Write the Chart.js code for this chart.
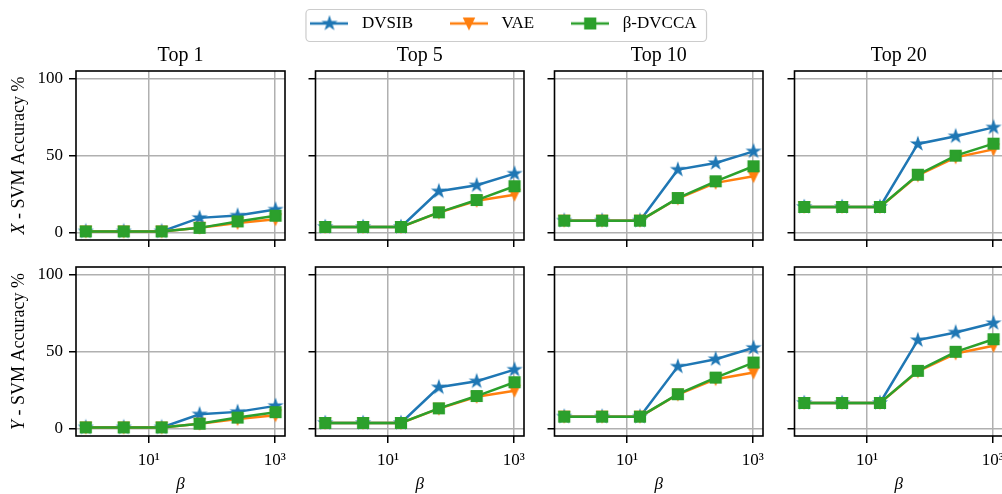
<!DOCTYPE html>
<html>
<head>
<meta charset="utf-8">
<script src="https://cdn.jsdelivr.net/npm/chart.js@4.4.1/dist/chart.umd.min.js"></script>
<style>
  html, body { margin: 0; padding: 0; background: #fff; overflow: hidden; width: 1002px; height: 494px; position: relative; }
  canvas { position: absolute; }
</style>
</head>
<body>
<script>
// ---- data ----
const betaValues = [1, 4, 16, 64, 256, 1024];
const panelTitles = ['Top 1', 'Top 5', 'Top 10', 'Top 20'];
const seriesNames = ['DVSIB', 'VAE', 'β-DVCCA'];
const rowLetters = ['X', 'Y'];
const yTickValues = [0, 50, 100];
const xTickValues = [10, 1000];
const xTickLabels = ['10¹', '10³'];

// X row (one list per panel: Top 1, Top 5, Top 10, Top 20)
const dvsibX = [
  [0.6, 0.6, 0.6, 9.4, 10.9, 14.8],
  [3.5, 3.5, 3.5, 26.7, 30.6, 38.2],
  [7.6, 7.6, 7.6, 40.8, 45.1, 52.7],
  [16.5, 16.5, 16.5, 57.5, 62.5, 68.3]
];
const vaeX = [
  [0.5, 0.5, 0.5, 3.0, 6.0, 8.5],
  [3.5, 3.5, 3.5, 12.8, 20.5, 24.5],
  [7.6, 7.6, 7.6, 22.0, 32.2, 36.5],
  [16.5, 16.5, 16.5, 37.0, 48.8, 54.0]
];
const dvccaX = [
  [0.6, 0.6, 0.6, 2.9, 7.1, 10.8],
  [3.5, 3.5, 3.5, 13.0, 21.0, 30.0],
  [7.6, 7.6, 7.6, 22.3, 33.2, 43.0],
  [16.5, 16.5, 16.5, 37.5, 49.9, 57.7]
];
// Y row
const dvsibY = [
  [0.6, 0.6, 0.6, 9.1, 10.7, 14.6],
  [3.5, 3.5, 3.5, 26.7, 30.6, 38.2],
  [7.6, 7.6, 7.6, 40.2, 45.0, 52.4],
  [16.5, 16.5, 16.5, 57.4, 62.4, 68.5]
];
const vaeY = [
  [0.5, 0.5, 0.5, 3.0, 6.0, 8.5],
  [3.5, 3.5, 3.5, 12.8, 20.5, 24.5],
  [7.6, 7.6, 7.6, 22.0, 32.0, 36.3],
  [16.5, 16.5, 16.5, 37.0, 48.7, 53.7]
];
const dvccaY = [
  [0.6, 0.6, 0.6, 3.0, 7.0, 10.5],
  [3.5, 3.5, 3.5, 13.0, 21.0, 30.0],
  [7.6, 7.6, 7.6, 22.2, 33.0, 42.8],
  [16.5, 16.5, 16.5, 37.4, 49.8, 58.0]
];

const rowData = [[dvsibX, vaeX, dvccaX], [dvsibY, vaeY, dvccaY]];

// ---- styling ----
const FONT = '"Liberation Serif", "Times New Roman", serif';
Chart.defaults.font.family = FONT;
Chart.defaults.color = '#000';

const colors = ['#1f77b4', '#ff7f0e', '#2ca02c'];
const markerKinds = ['star', 'triDown', 'square'];

function drawMarker(ctx, kind, cx, cy, color) {
  ctx.fillStyle = color;
  ctx.strokeStyle = color;
  ctx.lineWidth = 1.2;
  ctx.lineJoin = 'miter';
  ctx.beginPath();
  if (kind === 'star') {
    for (let k = 0; k < 10; k++) {
      const r = k % 2 ? 2.5 : 6.5;
      const a = -Math.PI / 2 + k * Math.PI / 5;
      ctx.lineTo(cx + r * Math.cos(a), cy + r * Math.sin(a));
    }
  } else if (kind === 'triDown') {
    ctx.moveTo(cx - 5.3, cy - 5.3);
    ctx.lineTo(cx + 5.3, cy - 5.3);
    ctx.lineTo(cx, cy + 5.6);
  } else {
    ctx.rect(cx - 5.5, cy - 5.5, 11, 11);
  }
  ctx.closePath();
  ctx.fill();
  ctx.stroke();
}

function markerImage(kind, color) {
  const c = document.createElement('canvas');
  c.width = 18; c.height = 18;
  drawMarker(c.getContext('2d'), kind, 9, 9, color);
  return c;
}

function legendIcon(kind, color) {
  const c = document.createElement('canvas');
  c.width = 38; c.height = 18;
  const ctx = c.getContext('2d');
  ctx.strokeStyle = color;
  ctx.lineWidth = 2.5;
  ctx.beginPath();
  ctx.moveTo(0, 9); ctx.lineTo(38, 9);
  ctx.stroke();
  drawMarker(ctx, kind, 19, 9, color);
  return c;
}

const markerImgs = markerKinds.map((k, i) => markerImage(k, colors[i]));
const legendIcons = markerKinds.map((k, i) => legendIcon(k, colors[i]));

// black frame on all four sides (matplotlib spines)
const framePlugin = {
  id: 'frame',
  afterDraw(chart) {
    const a = chart.chartArea, ctx = chart.ctx;
    ctx.save();
    ctx.strokeStyle = '#000';
    ctx.lineWidth = 1.6;
    ctx.strokeRect(a.left, a.top, a.right - a.left, a.bottom - a.top);
    ctx.restore();
  }
};

function yLabelPlugin(letter) {
  return {
    id: 'ylab',
    afterDraw(chart) {
      const ctx = chart.ctx, a = chart.chartArea;
      const rest = ' - SVM Accuracy %';
      ctx.save();
      ctx.translate(19, (a.top + a.bottom) / 2);
      ctx.rotate(-Math.PI / 2);
      ctx.fillStyle = '#000';
      ctx.textBaseline = 'middle';
      ctx.textAlign = 'left';
      ctx.font = 'italic 18px ' + FONT;
      const w1 = ctx.measureText(letter).width;
      ctx.font = '18px ' + FONT;
      const w2 = ctx.measureText(rest).width;
      const x0 = -(w1 + w2) / 2;
      ctx.font = 'italic 18px ' + FONT;
      ctx.fillText(letter, x0, 0);
      ctx.font = '18px ' + FONT;
      ctx.fillText(rest, x0 + w1, 0);
      ctx.restore();
    }
  };
}

// ---- layout ----
const plotLefts = [76, 315, 554, 794];
const plotW = 209, plotH = 169, padRight = 16;
const rows = [
  { top: 43, padTop: 0, axisH: 8, padBottom: 10 },
  { top: 249, padTop: 18, axisH: 59, padBottom: 0 }
];
const xMin = Math.pow(10, -0.1505);
const xMax = Math.pow(10, 3.1608);

function addCanvas(left, top, w, h) {
  const cv = document.createElement('canvas');
  cv.width = w; cv.height = h;
  cv.style.left = left + 'px';
  cv.style.top = top + 'px';
  cv.style.width = w + 'px';
  cv.style.height = h + 'px';
  document.body.appendChild(cv);
  return cv;
}

const gridStyle = { color: '#b0b0b0', lineWidth: 1.5, tickColor: '#000', tickLength: 7, tickWidth: 1.5, drawTicks: true };

rows.forEach((row, r) => {
  const bottomRow = r === 1;
  const titleH = bottomRow ? 0 : 28;
  plotLefts.forEach((pl, c) => {
    const leftCol = c === 0;
    const L = leftCol ? 76 : 8;
    const w = L + plotW + padRight;
    const h = row.padTop + titleH + plotH + row.axisH + row.padBottom;
    const cv = addCanvas(pl - L, row.top, w, h);
    const series = rowData[r];
    const orders = [2, 1, 0];
    const datasets = series.map((s, i) => ({
      label: seriesNames[i],
      data: betaValues.map((b, j) => ({ x: b, y: s[c][j] })),
      borderColor: colors[i],
      backgroundColor: colors[i],
      borderWidth: 2.5,
      pointStyle: markerImgs[i],
      pointRadius: 6,
      order: orders[i],
      clip: false
    }));
    new Chart(cv, {
      type: 'line',
      data: { datasets },
      options: {
        responsive: false,
        animation: false,
        events: [],
        devicePixelRatio: 1,
        layout: { padding: { top: row.padTop, right: padRight, left: 0, bottom: row.padBottom } },
        plugins: {
          legend: { display: false },
          tooltip: { enabled: false },
          title: {
            display: !bottomRow,
            text: panelTitles[c],
            fullSize: false,
            color: '#000',
            font: { size: 20, lineHeight: 1, weight: 'normal' },
            padding: { top: 3, bottom: 5 }
          }
        },
        scales: {
          x: {
            type: 'logarithmic',
            min: xMin,
            max: xMax,
            afterBuildTicks: (s) => { s.ticks = xTickValues.map(v => ({ value: v })); },
            afterFit: (s) => { s.height = row.axisH; },
            ticks: {
              display: bottomRow,
              autoSkip: false,
              maxRotation: 0,
              padding: 7,
              color: '#000',
              font: { size: 17 },
              callback: (v, i) => xTickLabels[i]
            },
            grid: gridStyle,
            border: { display: false },
            title: {
              display: bottomRow,
              text: 'β',
              color: '#000',
              padding: 0,
              font: { size: 17, style: 'italic' }
            }
          },
          y: {
            type: 'linear',
            min: -5,
            max: 105,
            afterBuildTicks: (s) => { s.ticks = yTickValues.map(v => ({ value: v })); },
            afterFit: (s) => { s.width = L; },
            ticks: {
              display: leftCol,
              padding: 6,
              color: '#000',
              font: { size: 17 }
            },
            grid: gridStyle,
            border: { display: false }
          }
        }
      },
      plugins: leftCol ? [framePlugin, yLabelPlugin(rowLetters[r])] : [framePlugin]
    });
  });
});

// ---- shared legend on top ----
const legendFrame = {
  id: 'legendFrame',
  beforeDraw(chart) {
    const hb = chart.legend && chart.legend.legendHitBoxes;
    if (!hb || !hb.length) return;
    const first = hb[0], last = hb[hb.length - 1];
    const cy = first.top + first.height / 2;
    const x0 = first.left + 0.5, x1 = last.left + last.width + 10;
    const ctx = chart.ctx;
    ctx.save();
    ctx.fillStyle = '#fff';
    ctx.strokeStyle = '#cccccc';
    ctx.lineWidth = 1.2;
    ctx.beginPath();
    ctx.roundRect(x0, cy - 14, x1 - x0, 32, 4);
    ctx.fill();
    ctx.stroke();
    ctx.restore();
  }
};

// tall transparent canvas so the legend box is not clipped
const legendCanvas = addCanvas(0, -17, 1002, 220);
new Chart(legendCanvas, {
  type: 'line',
  data: { datasets: seriesNames.map((n, i) => ({ label: n, data: [], borderColor: colors[i] })) },
  options: {
    responsive: false,
    animation: false,
    events: [],
    devicePixelRatio: 1,
    scales: { x: { display: false }, y: { display: false } },
    plugins: {
      tooltip: { enabled: false },
      legend: {
        display: true,
        position: 'top',
        align: 'center',
        labels: {
          usePointStyle: true,
          pointStyleWidth: 48,
          padding: 32,
          color: '#000',
          font: { size: 17 },
          generateLabels: () => seriesNames.map((n, i) => ({
            text: n,
            pointStyle: legendIcons[i],
            fillStyle: colors[i],
            strokeStyle: colors[i],
            lineWidth: 0,
            hidden: false,
            datasetIndex: i
          }))
        }
      }
    }
  },
  plugins: [legendFrame]
});
</script>
</body>
</html>
